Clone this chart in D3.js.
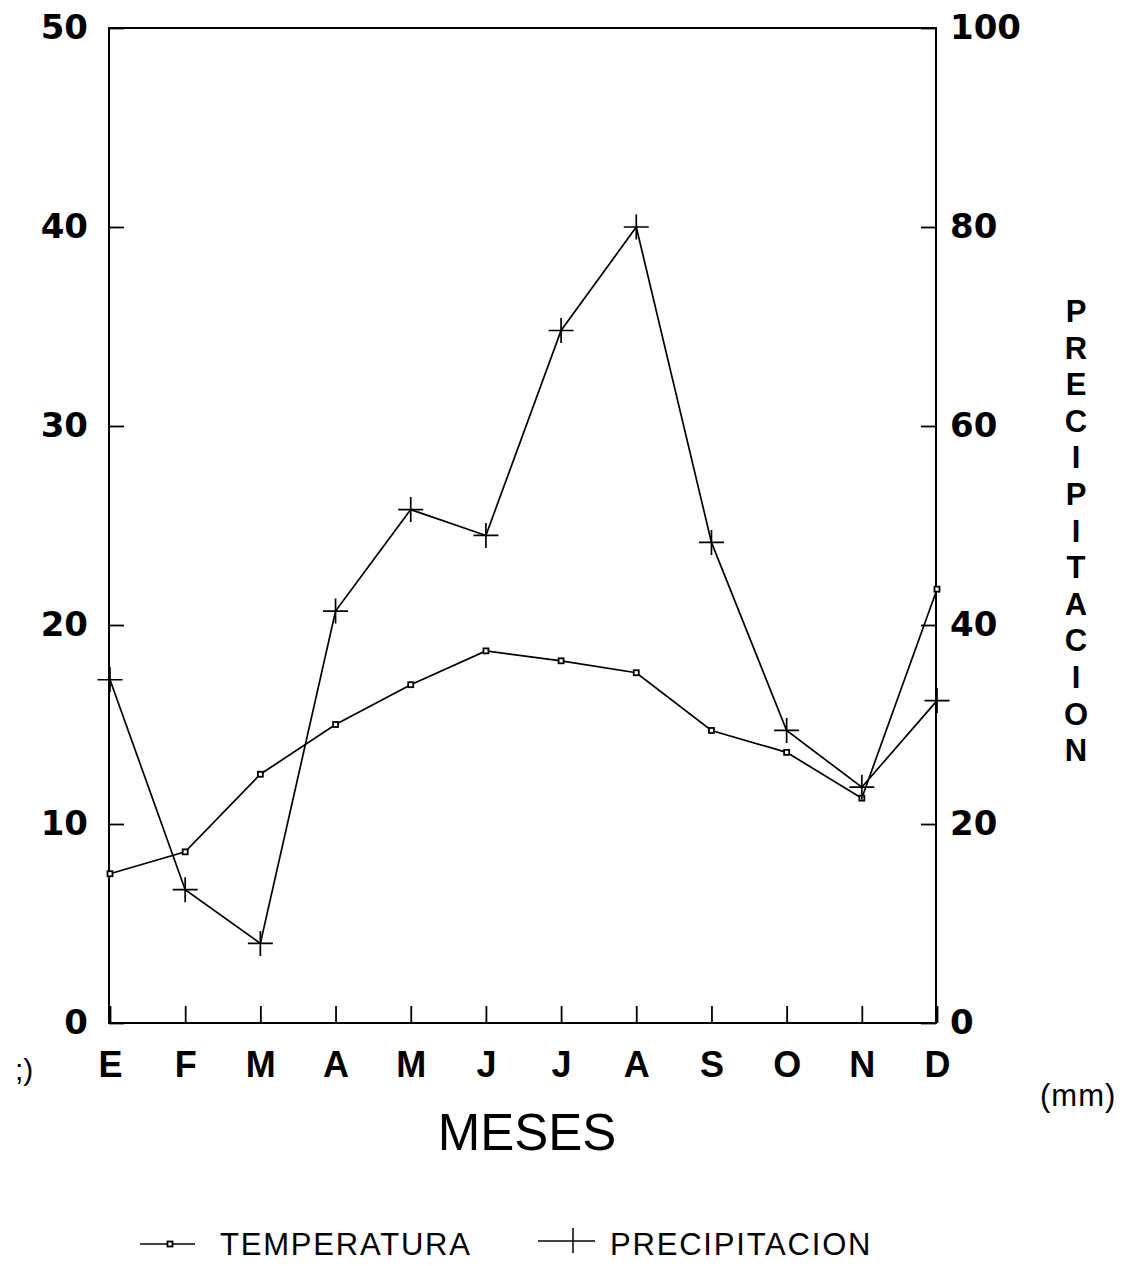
<!DOCTYPE html>
<html>
<head>
<meta charset="utf-8">
<script src="https://d3js.org/d3.v7.min.js"></script>
<style>
  body { margin: 0; background: #fff; }
</style>
</head>
<body>
<div id="my_dataviz"></div>
<script>

// data
var months = ["E", "F", "M", "A", "M", "J", "J", "A", "S", "O", "N", "D"];
var temperatura = [7.5, 8.6, 12.5, 15.0, 17.0, 18.7, 18.2, 17.6, 14.7, 13.6, 11.3, 21.8];
var precipitacion = [34.5, 13.4, 8.0, 41.4, 51.6, 49.0, 69.6, 80.0, 48.3, 29.4, 23.7, 32.4];
var leftTicks = [0, 10, 20, 30, 40, 50];
var rightTicks = [0, 20, 40, 60, 80, 100];

var W = 1135, H = 1266;
var plot = {left: 109, right: 936, top: 28, bottom: 1023};

var svg = d3.select("#my_dataviz")
  .append("svg")
    .attr("width", W)
    .attr("height", H);

var x = d3.scaleLinear()
  .domain([0, months.length - 1])
  .range([plot.left + 1, plot.right + 1]);

var yL = d3.scaleLinear().domain([0, 50]).range([plot.bottom, plot.top]);
var yR = d3.scaleLinear().domain([0, 100]).range([plot.bottom, plot.top]);

// frame
svg.append("rect")
  .attr("x", plot.left).attr("y", plot.top)
  .attr("width", plot.right - plot.left)
  .attr("height", plot.bottom - plot.top)
  .attr("fill", "none").attr("stroke", "#000").attr("stroke-width", 2);

var tickFont = "'DejaVu Sans', sans-serif";

// left axis (ticks inward)
var gL = svg.append("g")
  .attr("transform", "translate(" + plot.left + ",0)")
  .call(d3.axisLeft(yL).tickValues(leftTicks).tickSize(-15).tickSizeOuter(0).tickPadding(21));
// right axis
var gR = svg.append("g")
  .attr("transform", "translate(" + plot.right + ",0)")
  .call(d3.axisRight(yR).tickValues(rightTicks).tickSize(-15).tickSizeOuter(0).tickPadding(14));
// bottom axis
var gB = svg.append("g")
  .attr("transform", "translate(0," + plot.bottom + ")")
  .call(d3.axisBottom(x).tickValues(d3.range(months.length))
    .tickFormat(function(i) { return months[i]; })
    .tickSize(-17).tickSizeOuter(0).tickPadding(28));

[gL, gR, gB].forEach(function(g) {
  g.select(".domain").remove();
  g.selectAll("line").attr("stroke", "#000").attr("stroke-width", 1.8);
  g.selectAll("text")
    .attr("fill", "#000")
    .style("font-family", tickFont)
    .style("font-weight", "bold")
    .style("font-size", "34px");
});
gB.selectAll("text").style("font-size", "36px")
  .style("font-family", "'Liberation Sans', Arial, sans-serif");

// lines
var lineT = d3.line()
  .x(function(d, i) { return x(i); })
  .y(function(d) { return yL(d); });
var lineP = d3.line()
  .x(function(d, i) { return x(i); })
  .y(function(d) { return yR(d); });

svg.append("path")
  .datum(temperatura)
  .attr("d", lineT)
  .attr("fill", "none").attr("stroke", "#000").attr("stroke-width", 1.7);

svg.append("path")
  .datum(precipitacion)
  .attr("d", lineP)
  .attr("fill", "none").attr("stroke", "#000").attr("stroke-width", 1.7);

// temperature markers: small squares
svg.append("g")
  .selectAll("rect")
  .data(temperatura)
  .enter()
  .append("rect")
    .attr("x", function(d, i) { return x(i) - 2.5; })
    .attr("y", function(d) { return yL(d) - 2.5; })
    .attr("width", 5).attr("height", 5)
    .attr("fill", "#fff").attr("stroke", "#000").attr("stroke-width", 1.8);

// precipitation markers: plus signs
var plus = function(cx, cy, r) {
  return "M" + (cx - r) + "," + cy + "H" + (cx + r) + "M" + cx + "," + (cy - r) + "V" + (cy + r);
};
svg.append("g")
  .selectAll("path")
  .data(precipitacion)
  .enter()
  .append("path")
    .attr("d", function(d, i) { return plus(x(i), yR(d), 12.5); })
    .attr("stroke", "#000").attr("stroke-width", 1.7).attr("fill", "none");

// titles
svg.append("text")
  .attr("x", 527).attr("y", 1150)
  .attr("text-anchor", "middle")
  .style("font-family", "'Liberation Sans', Arial, sans-serif")
  .style("font-size", "51px")
  .text("MESES");

svg.append("text")
  .attr("x", 1040).attr("y", 1106)
  .style("font-family", "'Liberation Sans', Arial, sans-serif")
  .style("font-size", "31px")
  .style("letter-spacing", "1px")
  .text("(mm)");

svg.append("text")
  .attr("x", 15).attr("y", 1080)
  .style("font-family", "'Liberation Sans', Arial, sans-serif")
  .style("font-size", "30px")
  .text(";)");

// vertical axis title, one letter per line
var vert = "PRECIPITACION".split("");
svg.append("g")
  .selectAll("text")
  .data(vert)
  .enter()
  .append("text")
    .attr("x", 1076)
    .attr("y", function(d, i) { return 322 + i * 36.6; })
    .attr("text-anchor", "middle")
    .style("font-family", "'Liberation Sans', Arial, sans-serif")
    .style("font-weight", "bold")
    .style("font-size", "31px")
    .text(function(d) { return d; });

// legend
var legY = 1244;
svg.append("line")
  .attr("x1", 140).attr("x2", 195).attr("y1", legY).attr("y2", legY)
  .attr("stroke", "#000").attr("stroke-width", 1.5);
svg.append("rect")
  .attr("x", 167.5).attr("y", legY - 2.5).attr("width", 5).attr("height", 5)
  .attr("fill", "#fff").attr("stroke", "#000").attr("stroke-width", 1.8);
svg.append("text")
  .attr("x", 220).attr("y", 1255)
  .style("font-family", "'Liberation Sans', Arial, sans-serif")
  .style("font-size", "31px")
  .style("letter-spacing", "1.8px")
  .text("TEMPERATURA");

svg.append("line")
  .attr("x1", 538).attr("x2", 595).attr("y1", legY - 3).attr("y2", legY - 3)
  .attr("stroke", "#000").attr("stroke-width", 1.5);
svg.append("path")
  .attr("d", "M573," + (legY - 16) + "V" + (legY + 9))
  .attr("stroke", "#000").attr("stroke-width", 1.5);
svg.append("text")
  .attr("x", 610).attr("y", 1255)
  .style("font-family", "'Liberation Sans', Arial, sans-serif")
  .style("font-size", "31px")
  .style("letter-spacing", "1.8px")
  .text("PRECIPITACION");

</script>
</body>
</html>
